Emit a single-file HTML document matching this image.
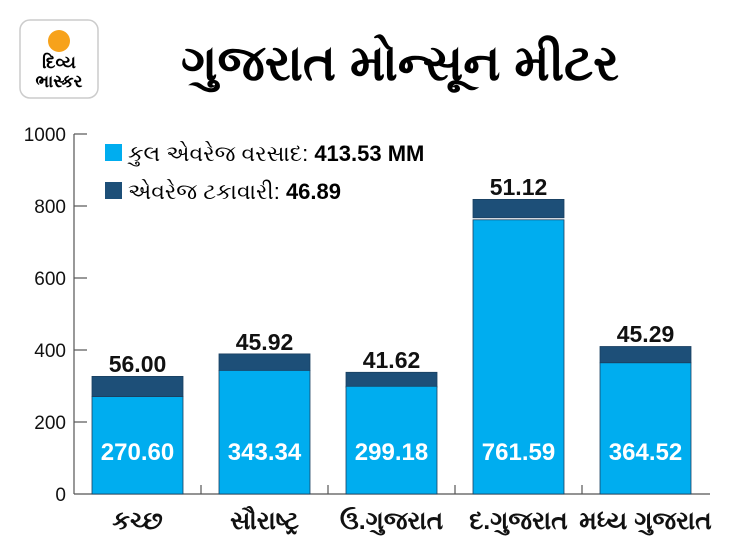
<!DOCTYPE html>
<html><head><meta charset="utf-8"><style>
body{margin:0;width:730px;height:548px;background:#fff;overflow:hidden;font-family:"Liberation Sans","Noto Sans CJK SC",sans-serif;}
</style></head><body>
<svg width="730" height="548" xmlns="http://www.w3.org/2000/svg" font-family="Liberation Sans, Noto Sans CJK SC, sans-serif">
<rect x="20" y="20" width="78" height="78" rx="10" fill="#fff" stroke="#ccc" stroke-width="1.5"/>
<circle cx="59" cy="41" r="11" fill="#f7a21b"/>
<text x="59" y="68" font-size="17" font-weight="bold" text-anchor="middle">દિવ્ય</text>
<text x="59" y="87" font-size="17" font-weight="bold" text-anchor="middle">ભાસ્કર</text>
<text x="400" y="80" font-size="50" font-weight="bold" text-anchor="middle">ગુજરાત મોન્સૂન મીટર</text>
<g font-size="19" text-anchor="end" fill="#111">
<text x="66" y="141">1000</text><text x="66" y="213">800</text><text x="66" y="285">600</text><text x="66" y="357">400</text><text x="66" y="429">200</text><text x="66" y="501">0</text>
</g>
<g stroke="#555" stroke-width="1.2">
<line x1="74" y1="134" x2="74" y2="494"/>
<line x1="74" y1="134" x2="87" y2="134"/><line x1="74" y1="206" x2="87" y2="206"/><line x1="74" y1="278" x2="87" y2="278"/><line x1="74" y1="350" x2="87" y2="350"/><line x1="74" y1="422" x2="87" y2="422"/>
<line x1="74" y1="494" x2="710" y2="494"/>
<line x1="201" y1="485" x2="201" y2="494"/><line x1="328" y1="485" x2="328" y2="494"/><line x1="455" y1="485" x2="455" y2="494"/><line x1="582" y1="485" x2="582" y2="494"/>
</g>
<rect x="105" y="144" width="17" height="17" fill="#00adef"/>
<text x="128" y="161" font-size="22">કુલ એવરેજ વરસાદ: <tspan font-weight="bold">413.53 MM</tspan></text>
<rect x="105" y="182" width="17" height="17" fill="#1d4f78"/>
<text x="128" y="199" font-size="22">એવરેજ ટકાવારી: <tspan font-weight="bold">46.89</tspan></text>
<g stroke="#1a3f60" stroke-width="0.8">
<rect x="92" y="376.4" width="91" height="20.2" fill="#1d4f78"/><rect x="92" y="396.6" width="91" height="97.4" fill="#00adef"/>
<rect x="219" y="353.9" width="91" height="16.5" fill="#1d4f78"/><rect x="219" y="370.4" width="91" height="123.6" fill="#00adef"/>
<rect x="346" y="372.3" width="91" height="15" fill="#1d4f78"/><rect x="346" y="386.3" width="91" height="107.7" fill="#00adef"/>
<rect x="473" y="199.4" width="91" height="18.4" fill="#1d4f78"/><rect x="473" y="219.8" width="91" height="274.2" fill="#00adef"/>
<rect x="600" y="346.5" width="91" height="16.3" fill="#1d4f78"/><rect x="600" y="362.8" width="91" height="131.2" fill="#00adef"/>
</g>
<g font-size="23" font-weight="bold" text-anchor="middle" fill="#111">
<text x="137.5" y="372">56.00</text><text x="264.5" y="350">45.92</text><text x="391.5" y="368">41.62</text><text x="518.5" y="195">51.12</text><text x="645.5" y="342">45.29</text>
</g>
<g font-size="24" font-weight="bold" text-anchor="middle" fill="#fff">
<text x="137.5" y="460">270.60</text><text x="264.5" y="460">343.34</text><text x="391.5" y="460">299.18</text><text x="518.5" y="460">761.59</text><text x="645.5" y="460">364.52</text>
</g>
<g font-size="25" font-weight="bold" text-anchor="middle" fill="#111">
<text x="137.5" y="529">કચ્છ</text><text x="264.5" y="529">સૌરાષ્ટ્ર</text><text x="391.5" y="529">ઉ.ગુજરાત</text><text x="518.5" y="529">દ.ગુજરાત</text><text x="645.5" y="529">મધ્ય ગુજરાત</text>
</g>
</svg>
</body></html>
